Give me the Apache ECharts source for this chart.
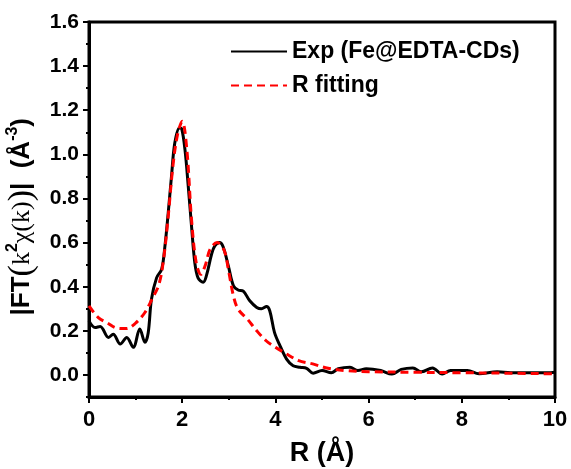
<!DOCTYPE html>
<html><head><meta charset="utf-8">
<script src="https://cdn.jsdelivr.net/npm/echarts@6/dist/echarts.min.js"></script>
<style>html,body{margin:0;padding:0;background:#fff}#c{width:571px;height:469px}</style>
</head><body><div id="c"></div>
<script>
var expR = [0,0.13,0.24,0.42,0.52,0.67,0.81,0.95,1.09,1.2,1.27,1.34,1.45,1.56,1.63,1.7,1.77,1.84,1.94,1.99,2.06,2.13,2.2,2.27,2.34,2.45,2.52,2.63,2.7,2.8,2.88,2.99,3.1,3.2,3.31,3.45,3.6,3.7,3.81,3.88,3.98,4.1,4.24,4.38,4.53,4.67,4.81,5.0,5.2,5.35,5.6,5.77,5.95,6.26,6.5,6.7,6.95,7.13,7.37,7.58,7.76,8.12,8.37,8.76,9.05,9.48,9.91,10];
var expVal = [0.245,0.215,0.22,0.17,0.185,0.14,0.17,0.125,0.208,0.148,0.19,0.343,0.44,0.48,0.585,0.735,0.90,1.05,1.12,1.115,1.02,0.855,0.675,0.51,0.44,0.42,0.45,0.547,0.585,0.60,0.58,0.494,0.404,0.385,0.38,0.336,0.306,0.30,0.31,0.29,0.193,0.132,0.072,0.042,0.035,0.03,0.008,0.02,0.01,0.028,0.035,0.02,0.028,0.02,0.004,0.025,0.032,0.014,0.032,0.004,0.02,0.02,0.005,0.014,0.01,0.01,0.01,0.012];
var fitR = [0,0.2,0.4,0.6,0.8,1.0,1.2,1.35,1.5,1.6,1.7,1.8,1.9,2.0,2.1,2.2,2.3,2.4,2.5,2.6,2.75,2.9,3.0,3.1,3.2,3.4,3.6,3.8,4.0,4.2,4.5,4.8,5.13,5.5,6,7,8,9,10];
var fitVal = [0.313,0.26,0.235,0.212,0.21,0.235,0.283,0.343,0.41,0.524,0.72,0.946,1.09,1.15,1.02,0.705,0.51,0.456,0.5,0.57,0.60,0.565,0.467,0.358,0.298,0.253,0.2,0.155,0.125,0.1,0.065,0.05,0.03,0.02,0.015,0.012,0.01,0.008,0.005];
var yMajor = [0,0.2,0.4,0.6,0.8,1.0,1.2,1.4,1.6];
var yMinor = [-0.1,0.1,0.3,0.5,0.7,0.9,1.1,1.3,1.5];
var seriesNames = ['Exp (Fe@EDTA-CDs)','R fitting'];

function pairs(xs, ys){ return xs.map(function(x,i){return [x, ys[i]];}); }
var F = 'Liberation Sans, Arial, sans-serif';
var SERIF = 'Liberation Serif, Times New Roman, serif';
var chart = echarts.init(document.getElementById('c'), null, {renderer:'canvas'});
chart.setOption({
  animation:false,
  grid:{left:89,right:16,top:22,bottom:72,show:true,borderColor:'#000',borderWidth:3,backgroundColor:'transparent',
        containLabel:false,outerBoundsMode:'none'},
  legend:{
    orient:'vertical', left:225, top:35, itemWidth:56, itemHeight:14, itemGap:11,
    itemStyle:{opacity:0},
    textStyle:{fontFamily:F,fontWeight:'bold',fontSize:23,color:'#000'},
    data:seriesNames
  },
  xAxis:{
    type:'value', min:0, max:10, interval:2,
    name:'R (Å)', nameLocation:'middle', nameGap:43,
    nameTextStyle:{fontFamily:F,fontWeight:'bold',fontSize:27,color:'#000'},
    axisLine:{show:true,onZero:false,lineStyle:{color:'#000',width:3}},
    axisTick:{show:true,inside:false,length:6,lineStyle:{color:'#000',width:2}},
    minorTick:{show:true,splitNumber:2,length:3,lineStyle:{color:'#000',width:2}},
    axisLabel:{fontFamily:F,fontWeight:'bold',fontSize:22,color:'#000',margin:12},
    splitLine:{show:false}
  },
  yAxis:[{
    type:'value', min:-0.1, max:1.6,
    name:'{a||FT}{p|(}{b|k}{s|2}{b|χ(k)}{p|)}{a||  (Å}{s|-3}{a|)  }',
    nameLocation:'middle', nameGap:47, nameRotate:90,
    nameTextStyle:{rich:{
      a:{fontFamily:F,fontWeight:'bold',fontSize:26,color:'#000'},
      p:{fontFamily:SERIF,fontSize:34,color:'#000'},
      b:{fontFamily:SERIF,fontSize:26,color:'#000'},
      s:{fontFamily:F,fontWeight:'bold',fontSize:16,color:'#000',verticalAlign:'top',padding:[0,0,12,0]}
    }},
    axisLine:{show:true,onZero:false,lineStyle:{color:'#000',width:3}},
    axisTick:{show:true,customValues:yMajor,length:6,lineStyle:{color:'#000',width:2}},
    axisLabel:{customValues:yMajor,fontFamily:F,fontWeight:'bold',fontSize:21,color:'#000',margin:10,
      formatter:function(v){return v.toFixed(1);}},
    splitLine:{show:false}
  },{
    type:'value', min:-0.1, max:1.6, position:'left',
    axisLine:{show:false},
    axisTick:{show:true,customValues:yMinor,length:3,lineStyle:{color:'#000',width:2}},
    axisLabel:{show:false},
    splitLine:{show:false}
  }],
  series:[{
    name:seriesNames[0], type:'line', data:pairs(expR,expVal), smooth:0.35, showSymbol:false, symbol:'none',
    lineStyle:{color:'#000',width:3}, itemStyle:{color:'#000'}, z:2
  },{
    name:seriesNames[1], type:'line', data:pairs(fitR,fitVal), smooth:0.35, showSymbol:false, symbol:'none',
    lineStyle:{color:'#ff0000',width:3,type:[8,5]}, itemStyle:{color:'#ff0000'}, z:3
  }]
});
</script></body></html>
